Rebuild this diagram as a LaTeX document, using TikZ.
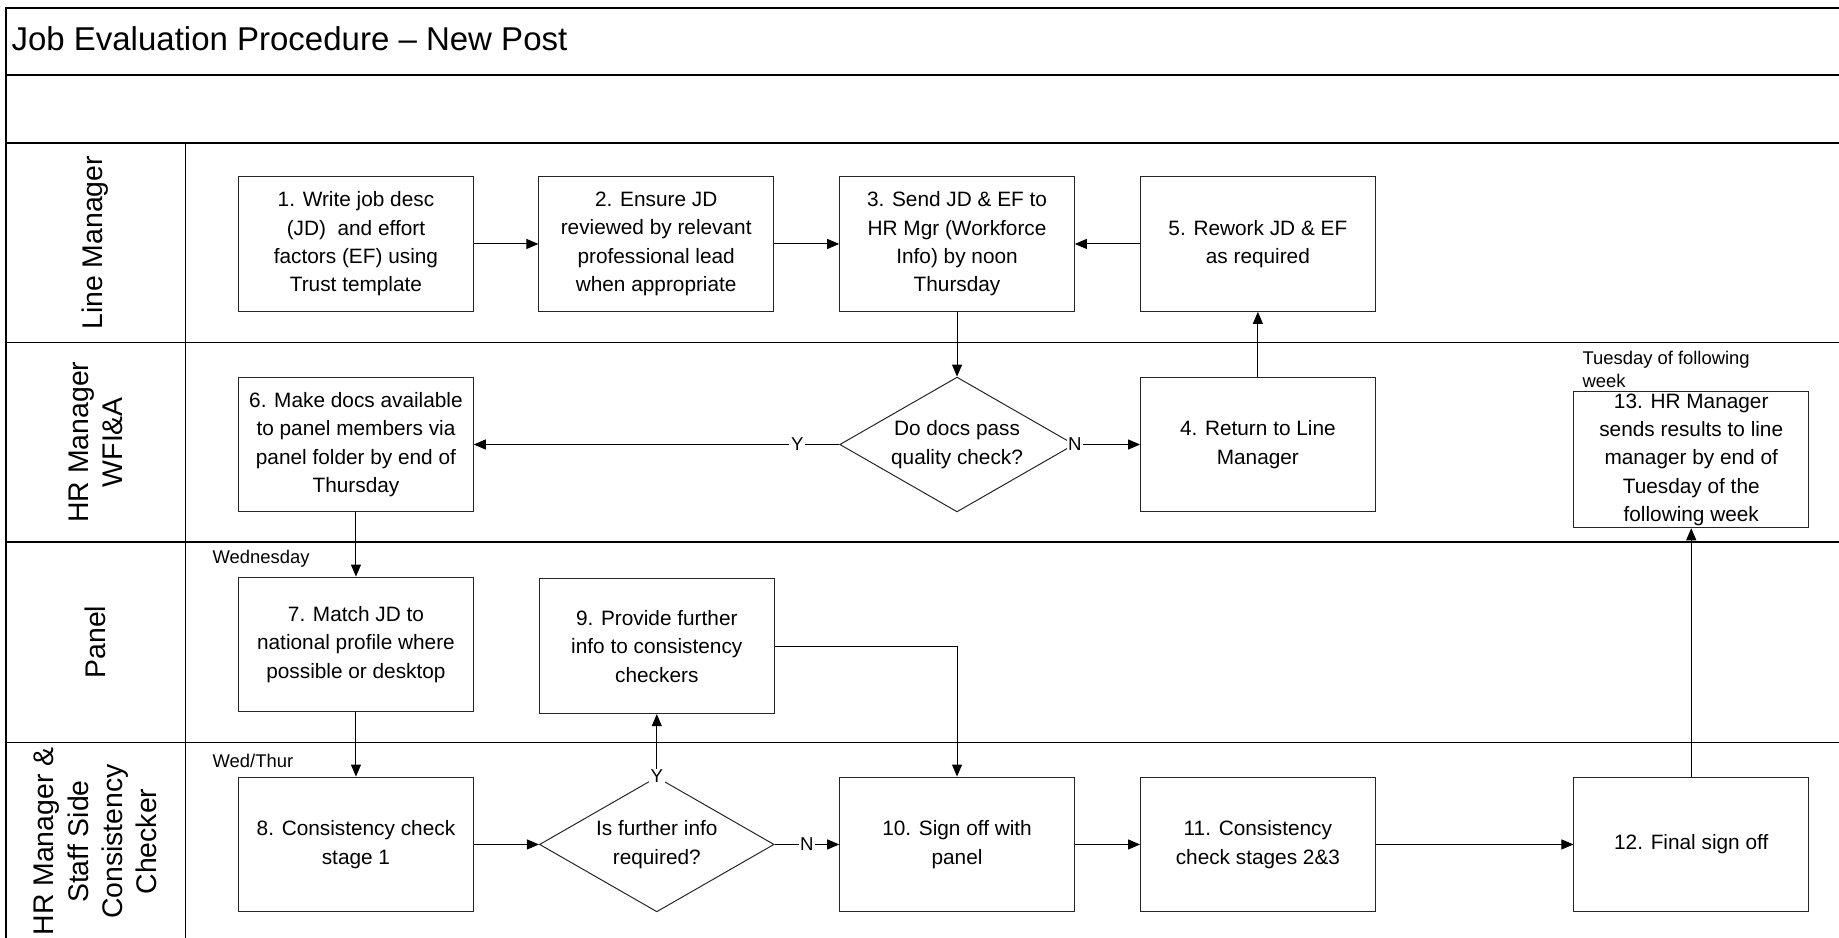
\documentclass[tikz,border=0pt]{standalone}
\usepackage{fontspec}
\setmainfont{Liberation Sans}
\usetikzlibrary{arrows.meta,shapes.geometric}
\begin{document}
\begin{tikzpicture}[x=0.5864pt,y=-0.5864pt,
  stepbox/.style={draw=black!85, line width=0.5pt, minimum width=117.3pt,
    minimum height=67.4pt, inner sep=0pt, align=center,
    font=\fontsize{10.4}{14.2}\selectfont},
  decision/.style={diamond, draw=black!85, line width=0.5pt,
    minimum width=117.3pt, minimum height=67.4pt, inner sep=0pt},
  flow/.style={line width=0.5pt, -{Triangle[length=6pt,width=5pt]}},
  yn/.style={fill=white, inner sep=0.8pt, font=\fontsize{9.3}{11}\selectfont},
  note/.style={font=\fontsize{9.2}{11.5}\selectfont, align=left, inner sep=0pt},
  lanename/.style={rotate=90, align=center, inner sep=0pt,
    font=\fontsize{14.2}{17.2}\selectfont},
  frame/.style={line width=0.8pt}]

\useasboundingbox (0,0) rectangle (1568,799);
\clip (0,0) rectangle (1568,799);

% swimlane frame
\draw[frame] (5,810) -- (5,7) -- (1580,7);
\draw[frame] (5,64) -- (1580,64);
\draw[frame] (5,122) -- (1580,122);
\draw[frame] (5,292) -- (1580,292);
\draw[frame] (5,462) -- (1580,462);
\draw[frame] (5,633) -- (1580,633);
\draw[line width=0.5pt] (158,122) -- (158,810);

% title
\node[anchor=base west, inner sep=0pt, font=\fontsize{16.5}{20}\selectfont]
  (title) at (9.5,42.8) {Job Evaluation Procedure – New Post};

% lane names
\node[lanename] (laneLM) at (81.5,207) {Line Manager};
\node[lanename] (laneHR) at (81.5,377) {HR Manager\\WFI\&A};
\node[lanename] (lanePN) at (81.5,547.5) {Panel};
\node[lanename] (laneCC) at (81.5,717.5) {HR Manager \&\\Staff Side\\Consistency\\Checker};

% steps
\node[stepbox] (b1) at (303.5,208) {1. Write job desc\\(JD)\ \ and effort\\factors (EF) using\\Trust template};
\node[stepbox] (b2) at (559.5,208) {2. Ensure JD\\reviewed by relevant\\professional lead\\when appropriate};
\node[stepbox] (b3) at (816,208) {3. Send JD \& EF to\\HR Mgr (Workforce\\Info) by noon\\Thursday};
\node[stepbox] (b5) at (1072.5,208) {5. Rework JD \& EF\\as required};

\node[stepbox] (b6) at (303.5,379) {6. Make docs available\\to panel members via\\panel folder by end of\\Thursday};
\node[decision, label={[align=center, font=\fontsize{10.4}{14.2}\selectfont]center:Do docs pass\\quality check?}] (d1) at (816,379) {};
\node[stepbox] (b4) at (1072.5,379) {4. Return to Line\\Manager};
\node[stepbox, minimum height=68pt] (b13) at (1442,392) {13. HR Manager\\sends results to line\\manager by end of\\Tuesday of the\\following week};

\node[stepbox] (b7) at (303.5,549.5) {7. Match JD to\\national profile where\\possible or desktop};
\node[stepbox] (b9) at (560,551) {9. Provide further\\info to consistency\\checkers};

\node[stepbox] (b8) at (303.5,720) {8. Consistency check\\stage 1};
\node[decision, label={[align=center, font=\fontsize{10.4}{14.2}\selectfont]center:Is further info\\required?}] (d2) at (560,720) {};
\node[stepbox] (b10) at (816,720) {10. Sign off with\\panel};
\node[stepbox] (b11) at (1072.5,720) {11. Consistency\\check stages 2\&3};
\node[stepbox] (b12) at (1442,720) {12. Final sign off};

% timing notes
\node[note, anchor=west] (wed) at (181,476) {Wednesday};
\node[note, anchor=west] (wedthu) at (181,648.5) {Wed/Thur};
\node[note, anchor=west] (tue) at (1349,315) {Tuesday of following\\week};

% connectors
\draw[flow] (b1.east) -- (b2.west);
\draw[flow] (b2.east) -- (b3.west);
\draw[flow] (b5.west) -- (b3.east);
\draw[flow] (b3.south) -- (d1.north);
\draw[flow] (d1.west) -- node[yn, pos=0.115] {Y} (b6.east);
\draw[flow] (d1.east) -- node[yn, pos=0] {N} (b4.west);
\draw[flow] (b4.north) -- (b5.south);
\draw[flow] (b6.south) -- (b7.north);
\draw[flow] (b7.south) -- (b8.north);
\draw[flow] (b8.east) -- (d2.west);
\draw[flow] (d2.north) -- node[yn, pos=0] {Y} (b9.south);
\draw[flow] (d2.east) -- node[yn, pos=0.5] {N} (b10.west);
\draw[flow] (b9.east) -| (b10.north);
\draw[flow] (b10.east) -- (b11.west);
\draw[flow] (b11.east) -- (b12.west);
\draw[flow] (b12.north) -- (b13.south);

\end{tikzpicture}
\end{document}
